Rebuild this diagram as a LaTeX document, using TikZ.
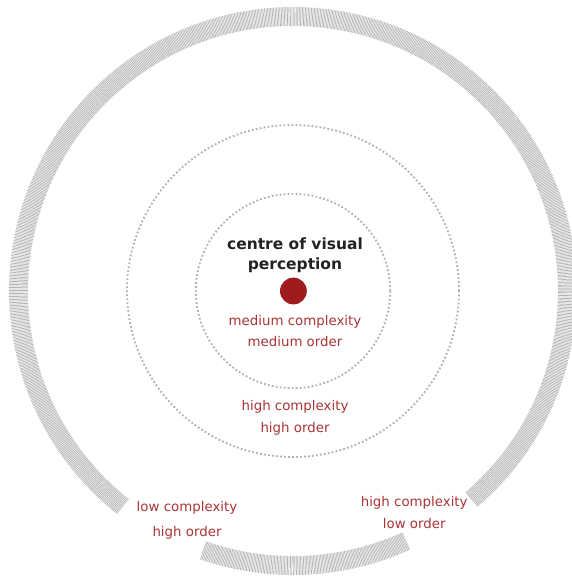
\documentclass[tikz,border=0pt]{standalone}
\usepackage{fontspec}
\setmainfont{DejaVu Sans}
\usetikzlibrary{positioning}
\definecolor{cred}{HTML}{9E1B1E}
\definecolor{ctext}{HTML}{A83436}
\definecolor{cdark}{HTML}{222222}
\definecolor{cgrey}{HTML}{B2B2B2}
\definecolor{cring}{HTML}{B4B4B4}
\tikzset{
  ring/.style={draw=cring, line width=0.475cm, dash pattern=on 0.5pt off 0.55pt},
  dots/.style={draw=cgrey, line width=1.3pt, dash pattern=on 1.3pt off 1.55pt},
  lbl/.style={text=ctext, align=center, inner sep=0pt, font=\fontsize{9.5}{15.6}\selectfont},
  title/.style={text=cdark, align=center, inner sep=0pt, font=\fontsize{11}{14.2}\selectfont\bfseries},
}
\begin{document}
\begin{tikzpicture}
  \useasboundingbox (-7.325,-7.125) rectangle (6.975,7.275);
  % striped outer band, open at the bottom in two places
  \draw[ring] (-49.4:6.8625) arc[start angle=-49.4, end angle=231.7, radius=6.8625];
  \draw[ring] (250.9:6.8625) arc[start angle=250.9, end angle=294.4, radius=6.8625];
  % dotted rings
  \draw[dots] (0,0) circle[radius=4.15];
  \draw[dots] (0,0) circle[radius=2.43];
  % centre
  \node[circle, fill=cred, minimum size=0.67cm, inner sep=0pt] (centre) at (0.01,0) {};
  \node[title] (name) at (0.05,0.9) {centre of visual\\perception};
  \node[lbl] (medium) at (0.05,-1.0) {medium complexity\\medium order};
  \node[lbl] (high) at (0.05,-3.16) {high complexity\\high order};
  \node[lbl] (lowcx) at (-2.65,-5.74) {low complexity\\[2.2pt]high order};
  \node[lbl] (lowor) at (3.03,-5.54) {high complexity\\low order};
\end{tikzpicture}
\end{document}
